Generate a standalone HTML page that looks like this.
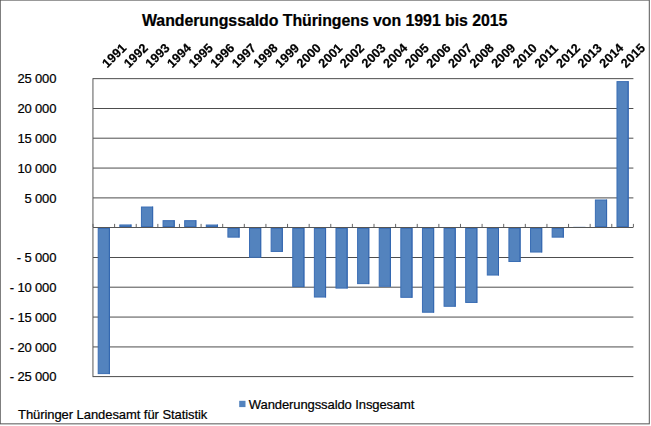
<!DOCTYPE html>
<html lang="de"><head><meta charset="utf-8"><title>Wanderungssaldo Thüringens von 1991 bis 2015</title>
<style>
html,body{margin:0;padding:0;background:#fff;}
body{width:651px;height:426px;overflow:hidden;position:relative;font-family:"Liberation Sans",sans-serif;}
svg{display:block;position:absolute;left:0;top:0;}
svg.gs{will-change:transform;}
text{font-family:"Liberation Sans",sans-serif;fill:#000;stroke:#000;stroke-width:0.22px;}
</style></head><body>
<svg width="651" height="426" viewBox="0 0 651 426">
<rect x="0" y="0" width="651" height="426" fill="#fff"/>
<rect x="0.25" y="0.1" width="649.05" height="423.75" fill="#fff" stroke="#555" stroke-width="1"/>
<text x="142.0" y="26" font-size="15.9" font-weight="bold" stroke="none" textLength="365.4" lengthAdjust="spacing">Wanderungssaldo Thüringens von 1991 bis 2015</text>
<g stroke="#4d4d4d" stroke-width="1">
<line x1="93.0" y1="78.65" x2="633.4" y2="78.65"/>
<line x1="93.0" y1="108.50" x2="633.4" y2="108.50"/>
<line x1="93.0" y1="138.20" x2="633.4" y2="138.20"/>
<line x1="93.0" y1="168.07" x2="633.4" y2="168.07"/>
<line x1="93.0" y1="197.90" x2="633.4" y2="197.90"/>
<line x1="93.0" y1="257.50" x2="633.4" y2="257.50"/>
<line x1="93.0" y1="287.20" x2="633.4" y2="287.20"/>
<line x1="93.0" y1="317.07" x2="633.4" y2="317.07"/>
<line x1="93.0" y1="346.93" x2="633.4" y2="346.93"/>
<line x1="93.0" y1="376.60" x2="633.4" y2="376.60"/>
</g>
<line x1="92.95" y1="78.2" x2="92.95" y2="377.1" stroke="#585858" stroke-width="1"/>
<g font-size="13">
<text x="17.51" y="83.4" textLength="38.89" lengthAdjust="spacing">25 000</text>
<text x="17.51" y="113.2" textLength="38.89" lengthAdjust="spacing">20 000</text>
<text x="17.51" y="142.9" textLength="38.89" lengthAdjust="spacing">15 000</text>
<text x="17.51" y="172.8" textLength="38.89" lengthAdjust="spacing">10 000</text>
<text x="24.58" y="202.6" textLength="31.82" lengthAdjust="spacing">5 000</text>
<text x="16.82" y="262.2" textLength="39.58" lengthAdjust="spacing">- 5 000</text>
<text x="9.75" y="291.9" textLength="46.65" lengthAdjust="spacing">- 10 000</text>
<text x="9.75" y="321.8" textLength="46.65" lengthAdjust="spacing">- 15 000</text>
<text x="9.75" y="351.6" textLength="46.65" lengthAdjust="spacing">- 20 000</text>
<text x="9.75" y="381.3" textLength="46.65" lengthAdjust="spacing">- 25 000</text>
</g>
<g fill="#5383be" stroke="#3a6db4" stroke-width="1">
<rect x="98.21" y="228.50" width="11.20" height="145.12"/>
<rect x="119.82" y="224.96" width="11.20" height="1.54"/>
<rect x="141.44" y="207.02" width="11.20" height="19.48"/>
<rect x="163.06" y="220.67" width="11.20" height="5.83"/>
<rect x="184.67" y="220.67" width="11.20" height="5.83"/>
<rect x="206.29" y="225.02" width="11.20" height="1.48"/>
<rect x="227.90" y="228.50" width="11.20" height="8.63"/>
<rect x="249.52" y="228.50" width="11.20" height="28.78"/>
<rect x="271.14" y="228.50" width="11.20" height="22.94"/>
<rect x="292.75" y="228.50" width="11.20" height="58.10"/>
<rect x="314.37" y="228.50" width="11.20" height="68.53"/>
<rect x="335.98" y="228.50" width="11.20" height="59.59"/>
<rect x="357.60" y="228.50" width="11.20" height="55.12"/>
<rect x="379.22" y="228.50" width="11.20" height="57.80"/>
<rect x="400.83" y="228.50" width="11.20" height="68.83"/>
<rect x="422.45" y="228.50" width="11.20" height="83.73"/>
<rect x="444.06" y="228.50" width="11.20" height="77.77"/>
<rect x="465.68" y="228.50" width="11.20" height="73.95"/>
<rect x="487.30" y="228.50" width="11.20" height="46.54"/>
<rect x="508.91" y="228.50" width="11.20" height="33.01"/>
<rect x="530.53" y="228.50" width="11.20" height="23.53"/>
<rect x="552.14" y="228.50" width="11.20" height="8.63"/>
<rect x="573.26" y="226.64" width="12.2" height="0.36" stroke="none" opacity="0.5"/>
<rect x="595.38" y="199.99" width="11.20" height="26.51"/>
<rect x="616.99" y="81.62" width="11.20" height="144.88"/>
</g>
<g stroke="#2f63ae" stroke-width="1" opacity="0.8">
<line x1="109.41" y1="228.00" x2="109.41" y2="374.12"/>
<line x1="131.02" y1="224.46" x2="131.02" y2="227.00"/>
<line x1="152.64" y1="206.52" x2="152.64" y2="227.00"/>
<line x1="174.26" y1="220.17" x2="174.26" y2="227.00"/>
<line x1="195.87" y1="220.17" x2="195.87" y2="227.00"/>
<line x1="217.49" y1="224.52" x2="217.49" y2="227.00"/>
<line x1="239.10" y1="228.00" x2="239.10" y2="237.63"/>
<line x1="260.72" y1="228.00" x2="260.72" y2="257.78"/>
<line x1="282.34" y1="228.00" x2="282.34" y2="251.94"/>
<line x1="303.95" y1="228.00" x2="303.95" y2="287.10"/>
<line x1="325.57" y1="228.00" x2="325.57" y2="297.53"/>
<line x1="347.18" y1="228.00" x2="347.18" y2="288.59"/>
<line x1="368.80" y1="228.00" x2="368.80" y2="284.12"/>
<line x1="390.42" y1="228.00" x2="390.42" y2="286.80"/>
<line x1="412.03" y1="228.00" x2="412.03" y2="297.83"/>
<line x1="433.65" y1="228.00" x2="433.65" y2="312.73"/>
<line x1="455.26" y1="228.00" x2="455.26" y2="306.77"/>
<line x1="476.88" y1="228.00" x2="476.88" y2="302.95"/>
<line x1="498.50" y1="228.00" x2="498.50" y2="275.54"/>
<line x1="520.11" y1="228.00" x2="520.11" y2="262.01"/>
<line x1="541.73" y1="228.00" x2="541.73" y2="252.53"/>
<line x1="563.34" y1="228.00" x2="563.34" y2="237.63"/>
<line x1="606.58" y1="199.49" x2="606.58" y2="227.00"/>
<line x1="628.19" y1="81.12" x2="628.19" y2="227.00"/>
</g>
<g stroke="#555" stroke-width="1">
<line x1="93.0" y1="227.5" x2="633.4" y2="227.5"/>
<line x1="93.0" y1="223.9" x2="93.0" y2="227.0" stroke="#666"/>
<line x1="114.62" y1="223.9" x2="114.62" y2="227.0" stroke="#666"/>
<line x1="136.23" y1="223.9" x2="136.23" y2="227.0" stroke="#666"/>
<line x1="157.85" y1="223.9" x2="157.85" y2="227.0" stroke="#666"/>
<line x1="179.46" y1="223.9" x2="179.46" y2="227.0" stroke="#666"/>
<line x1="201.08" y1="223.9" x2="201.08" y2="227.0" stroke="#666"/>
<line x1="222.7" y1="223.9" x2="222.7" y2="227.0" stroke="#666"/>
<line x1="244.31" y1="223.9" x2="244.31" y2="227.0" stroke="#666"/>
<line x1="265.93" y1="223.9" x2="265.93" y2="227.0" stroke="#666"/>
<line x1="287.54" y1="223.9" x2="287.54" y2="227.0" stroke="#666"/>
<line x1="309.16" y1="223.9" x2="309.16" y2="227.0" stroke="#666"/>
<line x1="330.78" y1="223.9" x2="330.78" y2="227.0" stroke="#666"/>
<line x1="352.39" y1="223.9" x2="352.39" y2="227.0" stroke="#666"/>
<line x1="374.01" y1="223.9" x2="374.01" y2="227.0" stroke="#666"/>
<line x1="395.62" y1="223.9" x2="395.62" y2="227.0" stroke="#666"/>
<line x1="417.24" y1="223.9" x2="417.24" y2="227.0" stroke="#666"/>
<line x1="438.86" y1="223.9" x2="438.86" y2="227.0" stroke="#666"/>
<line x1="460.47" y1="223.9" x2="460.47" y2="227.0" stroke="#666"/>
<line x1="482.09" y1="223.9" x2="482.09" y2="227.0" stroke="#666"/>
<line x1="503.7" y1="223.9" x2="503.7" y2="227.0" stroke="#666"/>
<line x1="525.32" y1="223.9" x2="525.32" y2="227.0" stroke="#666"/>
<line x1="546.94" y1="223.9" x2="546.94" y2="227.0" stroke="#666"/>
<line x1="568.55" y1="223.9" x2="568.55" y2="227.0" stroke="#666"/>
<line x1="590.17" y1="223.9" x2="590.17" y2="227.0" stroke="#666"/>
<line x1="611.78" y1="223.9" x2="611.78" y2="227.0" stroke="#666"/>
<line x1="633.4" y1="223.9" x2="633.4" y2="227.0" stroke="#666"/>
</g>
<rect x="239.2" y="400.8" width="6.3" height="6.3" fill="#5383be"/>
<text x="248.8" y="408.8" font-size="13" textLength="165.68" lengthAdjust="spacing">Wanderungssaldo Insgesamt</text>
<text x="18" y="419" font-size="13" textLength="189.37" lengthAdjust="spacing">Thüringer Landesamt für Statistik</text>
</svg>
<svg class="gs" width="651" height="426" viewBox="0 0 651 426">
<g font-size="12.6" font-weight="bold" stroke="#000" stroke-width="0.35">
<text transform="translate(107.31,68.5) rotate(-45)">1991</text>
<text transform="translate(128.92,68.5) rotate(-45)">1992</text>
<text transform="translate(150.54,68.5) rotate(-45)">1993</text>
<text transform="translate(172.16,68.5) rotate(-45)">1994</text>
<text transform="translate(193.77,68.5) rotate(-45)">1995</text>
<text transform="translate(215.39,68.5) rotate(-45)">1996</text>
<text transform="translate(237.00,68.5) rotate(-45)">1997</text>
<text transform="translate(258.62,68.5) rotate(-45)">1998</text>
<text transform="translate(280.24,68.5) rotate(-45)">1999</text>
<text transform="translate(301.85,68.5) rotate(-45)">2000</text>
<text transform="translate(323.47,68.5) rotate(-45)">2001</text>
<text transform="translate(345.08,68.5) rotate(-45)">2002</text>
<text transform="translate(366.70,68.5) rotate(-45)">2003</text>
<text transform="translate(388.32,68.5) rotate(-45)">2004</text>
<text transform="translate(409.93,68.5) rotate(-45)">2005</text>
<text transform="translate(431.55,68.5) rotate(-45)">2006</text>
<text transform="translate(453.16,68.5) rotate(-45)">2007</text>
<text transform="translate(474.78,68.5) rotate(-45)">2008</text>
<text transform="translate(496.40,68.5) rotate(-45)">2009</text>
<text transform="translate(518.01,68.5) rotate(-45)">2010</text>
<text transform="translate(539.63,68.5) rotate(-45)">2011</text>
<text transform="translate(561.24,68.5) rotate(-45)">2012</text>
<text transform="translate(582.86,68.5) rotate(-45)">2013</text>
<text transform="translate(604.48,68.5) rotate(-45)">2014</text>
<text transform="translate(626.09,68.5) rotate(-45)">2015</text>
</g>
</svg>
</body></html>
